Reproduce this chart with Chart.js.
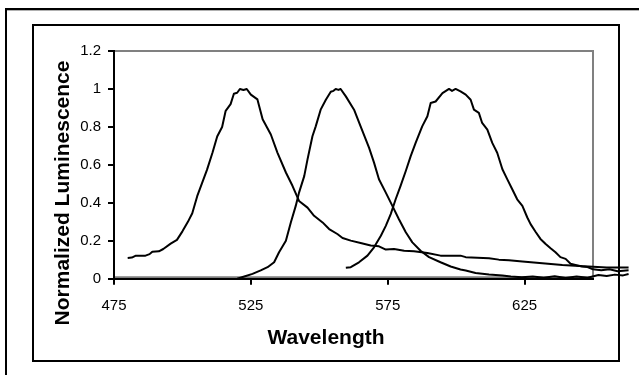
<!DOCTYPE html>
<html>
<head>
<meta charset="utf-8">
<script src="https://cdn.jsdelivr.net/npm/chart.js@4/dist/chart.umd.min.js"></script>
<style>
  html, body { margin: 0; padding: 0; background: #ffffff; }
  #wrap { width: 639px; height: 375px; }
</style>
</head>
<body>
<div id="wrap"><canvas id="c" width="639" height="375"></canvas></div>
<script>
// ---- Data ----
const xTickValues = [475, 525, 575, 625];
const yTickValues = [0, 0.2, 0.4, 0.6, 0.8, 1, 1.2];
const yTickLabels = ['0', '0.2', '0.4', '0.6', '0.8', '1', '1.2'];
const xTitle = 'Wavelength';
const yTitle = 'Normalized Luminescence';

// Series 1 (peak ~522 nm)
const wavelength1 = [480, 481.5, 483, 486.5, 488, 489, 491.4, 493, 495.7, 498, 500, 502, 503.6, 505.4, 507.2, 509, 511, 512.7, 514.5, 515.8, 517.6, 518.8, 520, 521, 522.3, 523.5, 525, 527.4, 529.3, 532.3, 534.7, 537.8, 540.2, 542.6, 545.7, 548.1, 551.2, 553.6, 556.6, 558.5, 561.5, 565.1, 568.8, 571.8, 574.3, 577.3, 581, 584.6, 589.5, 594.3, 601.6, 603.5, 612, 615.6, 619.3, 624.2, 631.5, 638.8, 645, 650, 655, 660, 663];
const luminescence1 = [0.11, 0.112, 0.122, 0.122, 0.13, 0.143, 0.145, 0.157, 0.185, 0.205, 0.25, 0.30, 0.345, 0.435, 0.505, 0.575, 0.665, 0.75, 0.80, 0.885, 0.92, 0.975, 0.98, 1.0, 0.995, 1.0, 0.97, 0.945, 0.84, 0.76, 0.665, 0.56, 0.49, 0.41, 0.375, 0.332, 0.297, 0.262, 0.236, 0.215, 0.201, 0.189, 0.175, 0.171, 0.154, 0.157, 0.148, 0.145, 0.136, 0.122, 0.122, 0.114, 0.108, 0.101, 0.098, 0.091, 0.082, 0.073, 0.068, 0.064, 0.06, 0.06, 0.06];

// Series 2 (peak ~557 nm)
const wavelength2 = [520, 522.6, 525.6, 528.6, 531.1, 533.5, 535.3, 537.8, 539.6, 541.4, 542.6, 544.5, 545.7, 547.5, 548.7, 550.5, 552.4, 554.2, 555.2, 556, 557, 557.8, 559.7, 562.7, 565.1, 568.2, 570, 571.8, 574.3, 576.7, 579.1, 581.6, 584, 587, 590.1, 594.3, 598, 601.6, 603.5, 607.1, 612, 616.9, 620, 624, 628, 632, 636, 640, 644, 648, 652, 655, 658, 661, 663];
const luminescence2 = [0.0, 0.012, 0.026, 0.044, 0.061, 0.087, 0.14, 0.20, 0.297, 0.384, 0.454, 0.541, 0.629, 0.751, 0.803, 0.891, 0.943, 0.985, 0.99, 1.0, 0.995, 1.0, 0.961, 0.891, 0.803, 0.69, 0.612, 0.524, 0.454, 0.384, 0.314, 0.245, 0.192, 0.148, 0.114, 0.087, 0.065, 0.049, 0.044, 0.031, 0.023, 0.017, 0.012, 0.008, 0.012, 0.006, 0.014, 0.004, 0.012, 0.006, 0.02, 0.015, 0.022, 0.018, 0.025];

// Series 3 (peak ~599 nm)
const wavelength3 = [559.7, 561.5, 564.5, 567.6, 570, 572.5, 574.3, 576.1, 577.9, 579.7, 581.6, 583.4, 585.2, 587.6, 589.5, 590.7, 592.5, 595, 597.4, 598.5, 599.8, 601.6, 603.5, 605.3, 606.5, 608.3, 609.5, 611.4, 613.2, 615, 616.9, 618.7, 620.5, 622.3, 624.2, 626, 627.2, 629, 630.8, 632.7, 634.5, 636.3, 638.1, 640, 641.8, 643.6, 646, 648, 650, 653, 656, 659, 663];
const luminescence3 = [0.058, 0.061, 0.087, 0.122, 0.166, 0.227, 0.279, 0.341, 0.419, 0.489, 0.568, 0.646, 0.716, 0.803, 0.856, 0.926, 0.934, 0.978, 1.0, 0.99, 1.0, 0.987, 0.97, 0.943, 0.891, 0.874, 0.821, 0.786, 0.716, 0.664, 0.577, 0.524, 0.472, 0.419, 0.384, 0.323, 0.288, 0.248, 0.21, 0.183, 0.161, 0.14, 0.114, 0.105, 0.079, 0.073, 0.065, 0.062, 0.05, 0.045, 0.05, 0.04, 0.045];

const toPoints = (xs, ys) => xs.map((x, i) => ({ x: x, y: ys[i] }));

const lineStyle = {
  showLine: true,
  borderColor: '#000000',
  backgroundColor: '#000000',
  borderWidth: 2,
  pointRadius: 0,
  pointHoverRadius: 0,
  tension: 0,
  fill: false,
  clip: false,
  borderJoinStyle: 'round'
};

const framePlugin = {
  id: 'frames',
  beforeDraw(chart) {
    const ctx = chart.ctx;
    const a = chart.chartArea;
    ctx.save();
    ctx.fillStyle = '#ffffff';
    ctx.fillRect(0, 0, chart.width, chart.height);
    // outer (partially visible) frame
    ctx.strokeStyle = '#000000';
    ctx.lineWidth = 2;
    ctx.beginPath();
    ctx.moveTo(639, 9); ctx.lineTo(6, 9); ctx.lineTo(6, 375);
    ctx.stroke();
    ctx.strokeStyle = '#b0b0b0';
    ctx.lineWidth = 1;
    ctx.beginPath();
    ctx.moveTo(7, 10.5); ctx.lineTo(639, 10.5);
    ctx.stroke();
    // inner chart frame
    ctx.strokeStyle = '#000000';
    ctx.lineWidth = 2;
    ctx.strokeRect(33, 25, 586, 336);
    // plot area border (gray)
    ctx.strokeStyle = '#808080';
    ctx.lineWidth = 2;
    ctx.beginPath();
    ctx.moveTo(a.left, a.top);
    ctx.lineTo(a.right, a.top);
    ctx.lineTo(a.right, a.bottom - 1.5);
    ctx.lineTo(a.left, a.bottom - 1.5);
    ctx.stroke();
    ctx.restore();
  }
};

new Chart(document.getElementById('c'), {
  type: 'scatter',
  data: {
    datasets: [
      Object.assign({ label: 'Series 1', data: toPoints(wavelength1, luminescence1) }, lineStyle),
      Object.assign({ label: 'Series 2', data: toPoints(wavelength2, luminescence2) }, lineStyle),
      Object.assign({ label: 'Series 3', data: toPoints(wavelength3, luminescence3) }, lineStyle)
    ]
  },
  options: {
    responsive: false,
    devicePixelRatio: 1,
    animation: false,
    events: [],
    layout: { padding: { left: 33, top: 25, right: 20, bottom: 14 } },
    plugins: {
      legend: { display: false },
      tooltip: { enabled: false },
      title: {
        display: true,
        text: yTitle,
        position: 'left',
        color: '#000000',
        font: { family: 'Liberation Sans, Arial, sans-serif', size: 21, weight: 'bold' },
        padding: { top: 18, bottom: 0 }
      },
      subtitle: {
        display: true,
        text: xTitle,
        position: 'bottom',
        color: '#000000',
        font: { family: 'Liberation Sans, Arial, sans-serif', size: 21, weight: 'bold' },
        padding: { top: 7, bottom: 10 }
      }
    },
    scales: {
      x: {
        type: 'linear',
        position: 'bottom',
        bounds: 'data',
        afterDataLimits(s) { s.min = 475; s.max = 650; },
        afterBuildTicks(s) { s.ticks = xTickValues.map(v => ({ value: v })); },
        afterFit(s) { s.height = 40; },
        grid: { drawOnChartArea: false, drawTicks: true, tickLength: 6, color: '#000000', lineWidth: 2 },
        border: { display: true, color: '#000000', width: 2 },
        ticks: {
          color: '#000000',
          padding: 12,
          maxRotation: 0,
          autoSkip: false,
          font: { family: 'Liberation Sans, Arial, sans-serif', size: 15 },
          callback: (v) => String(v)
        }
      },
      y: {
        type: 'linear',
        position: 'left',
        min: 0,
        max: 1.2,
        afterBuildTicks(s) { s.ticks = yTickValues.map(v => ({ value: v })); },
        afterFit(s) { s.width = 37.8; },
        grid: { drawOnChartArea: false, drawTicks: true, tickLength: 6, color: '#000000', lineWidth: 2 },
        border: { display: true, color: '#000000', width: 2 },
        ticks: {
          color: '#000000',
          padding: 7,
          autoSkip: false,
          font: { family: 'Liberation Sans, Arial, sans-serif', size: 15 },
          callback: (v, i) => yTickLabels[i]
        }
      },
      yPad: {
        type: 'linear',
        position: 'right',
        display: true,
        grid: { display: false, drawTicks: false },
        border: { display: false },
        ticks: { display: false },
        afterFit(s) { s.width = 26; }
      },
      xPad: {
        type: 'linear',
        position: 'top',
        display: true,
        grid: { display: false, drawTicks: false },
        border: { display: false },
        ticks: { display: false },
        afterFit(s) { s.height = 26; }
      }
    }
  },
  plugins: [framePlugin]
});
</script>
</body>
</html>
